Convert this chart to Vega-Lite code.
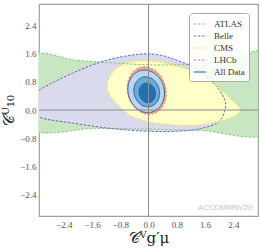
{
  "$schema": "https://vega.github.io/schema/vega-lite/v6.json",
  "width": 219,
  "height": 212,
  "autosize": "none",
  "padding": {"left": 39, "top": 4, "right": 4, "bottom": 34},
  "background": "white",
  "config": {
    "view": {"stroke": "#a0a0a0", "strokeWidth": 1.2},
    "axis": {
      "grid": false, "domain": false, "ticks": false,
      "labelFont": "Liberation Serif", "labelFontSize": 9, "labelColor": "#555555",
      "titleFont": "DejaVu Serif", "titleFontWeight": "normal", "titleColor": "#222222"
    },
    "legend": {
      "orient": "top-right", "offset": 9, "title": null,
      "fillColor": "rgba(255,255,255,0.85)", "strokeColor": "#aaaaaa", "cornerRadius": 3,
      "padding": 4, "labelFont": "Liberation Serif", "labelFontSize": 9, "labelColor": "#333333",
      "symbolType": "stroke", "symbolSize": 160, "symbolStrokeWidth": 1.2, "rowPadding": 0, "labelOffset": 7
    }
  },
  "data": {"values": [
    {"s":"ATLAS","name":"ATLAS","i":0,"x":-3.4,"y":1.49},
    {"s":"ATLAS","name":"ATLAS","i":1,"x":-2.0,"y":1.40},
    {"s":"ATLAS","name":"ATLAS","i":2,"x":-1.0,"y":1.33},
    {"s":"ATLAS","name":"ATLAS","i":3,"x":0.0,"y":1.28},
    {"s":"ATLAS","name":"ATLAS","i":4,"x":0.8,"y":1.28},
    {"s":"ATLAS","name":"ATLAS","i":5,"x":1.6,"y":1.33},
    {"s":"ATLAS","name":"ATLAS","i":6,"x":2.3,"y":1.42},
    {"s":"ATLAS","name":"ATLAS","i":7,"x":3.4,"y":1.56},
    {"s":"ATLAS","name":"ATLAS","i":8,"x":3.4,"y":-0.62},
    {"s":"ATLAS","name":"ATLAS","i":9,"x":1.5,"y":-0.58},
    {"s":"ATLAS","name":"ATLAS","i":10,"x":0.0,"y":-0.54},
    {"s":"ATLAS","name":"ATLAS","i":11,"x":-1.5,"y":-0.52},
    {"s":"ATLAS","name":"ATLAS","i":12,"x":-3.4,"y":-0.50},

    {"s":"Belle","name":"Belle","i":0,"x":-3.55,"y":0.18},
    {"s":"Belle","name":"Belle","i":1,"x":-3.1,"y":0.56},
    {"s":"Belle","name":"Belle","i":2,"x":-2.15,"y":1.04},
    {"s":"Belle","name":"Belle","i":3,"x":-1.18,"y":1.41},
    {"s":"Belle","name":"Belle","i":4,"x":-0.25,"y":1.58},
    {"s":"Belle","name":"Belle","i":5,"x":0.3,"y":1.56},
    {"s":"Belle","name":"Belle","i":6,"x":0.74,"y":1.43},
    {"s":"Belle","name":"Belle","i":7,"x":1.2,"y":1.25},
    {"s":"Belle","name":"Belle","i":8,"x":1.55,"y":1.02},
    {"s":"Belle","name":"Belle","i":9,"x":1.85,"y":0.75},
    {"s":"Belle","name":"Belle","i":10,"x":2.08,"y":0.45},
    {"s":"Belle","name":"Belle","i":11,"x":2.18,"y":0.2},
    {"s":"Belle","name":"Belle","i":12,"x":2.15,"y":-0.05},
    {"s":"Belle","name":"Belle","i":13,"x":2.04,"y":-0.28},
    {"s":"Belle","name":"Belle","i":14,"x":1.76,"y":-0.45},
    {"s":"Belle","name":"Belle","i":15,"x":1.2,"y":-0.57},
    {"s":"Belle","name":"Belle","i":16,"x":0.5,"y":-0.61},
    {"s":"Belle","name":"Belle","i":17,"x":-0.25,"y":-0.59},
    {"s":"Belle","name":"Belle","i":18,"x":-1.18,"y":-0.51},
    {"s":"Belle","name":"Belle","i":19,"x":-2.15,"y":-0.37},
    {"s":"Belle","name":"Belle","i":20,"x":-3.1,"y":-0.2},

    {"s":"CMS","name":"CMS","i":0,"x":-1.17,"y":0.66},
    {"s":"CMS","name":"CMS","i":1,"x":-1.1,"y":0.95},
    {"s":"CMS","name":"CMS","i":2,"x":-0.9,"y":1.18},
    {"s":"CMS","name":"CMS","i":3,"x":-0.6,"y":1.33},
    {"s":"CMS","name":"CMS","i":4,"x":-0.25,"y":1.39},
    {"s":"CMS","name":"CMS","i":5,"x":0.2,"y":1.37},
    {"s":"CMS","name":"CMS","i":6,"x":0.71,"y":1.27},
    {"s":"CMS","name":"CMS","i":7,"x":1.2,"y":1.12},
    {"s":"CMS","name":"CMS","i":8,"x":1.47,"y":1.02},
    {"s":"CMS","name":"CMS","i":9,"x":1.75,"y":0.82},
    {"s":"CMS","name":"CMS","i":10,"x":2.04,"y":0.57},
    {"s":"CMS","name":"CMS","i":11,"x":2.41,"y":0.24},
    {"s":"CMS","name":"CMS","i":12,"x":2.58,"y":0.06},
    {"s":"CMS","name":"CMS","i":13,"x":2.6,"y":-0.03},
    {"s":"CMS","name":"CMS","i":14,"x":2.41,"y":-0.19},
    {"s":"CMS","name":"CMS","i":15,"x":1.95,"y":-0.33},
    {"s":"CMS","name":"CMS","i":16,"x":1.47,"y":-0.42},
    {"s":"CMS","name":"CMS","i":17,"x":0.88,"y":-0.43},
    {"s":"CMS","name":"CMS","i":18,"x":0.3,"y":-0.38},
    {"s":"CMS","name":"CMS","i":19,"x":0.0,"y":-0.33},
    {"s":"CMS","name":"CMS","i":20,"x":-0.54,"y":-0.14},
    {"s":"CMS","name":"CMS","i":21,"x":-0.91,"y":0.2},
    {"s":"CMS","name":"CMS","i":22,"x":-1.1,"y":0.42},

    {"s":"LHCb","name":"LHCb","i":0,"x":-0.226,"y":1.207},
    {"s":"LHCb","name":"LHCb","i":1,"x":-0.464,"y":1.049},
    {"s":"LHCb","name":"LHCb","i":2,"x":-0.590,"y":0.757},
    {"s":"LHCb","name":"LHCb","i":3,"x":-0.572,"y":0.410},
    {"s":"LHCb","name":"LHCb","i":4,"x":-0.414,"y":0.101},
    {"s":"LHCb","name":"LHCb","i":5,"x":-0.158,"y":-0.089},
    {"s":"LHCb","name":"LHCb","i":6,"x":0.126,"y":-0.107},
    {"s":"LHCb","name":"LHCb","i":7,"x":0.364,"y":0.051},
    {"s":"LHCb","name":"LHCb","i":8,"x":0.490,"y":0.343},
    {"s":"LHCb","name":"LHCb","i":9,"x":0.472,"y":0.690},
    {"s":"LHCb","name":"LHCb","i":10,"x":0.314,"y":0.999},
    {"s":"LHCb","name":"LHCb","i":11,"x":0.058,"y":1.189},

    {"s":"All1","name":"All Data","i":0,"x":-0.223,"y":1.119},
    {"s":"All1","name":"All Data","i":1,"x":-0.448,"y":0.974},
    {"s":"All1","name":"All Data","i":2,"x":-0.571,"y":0.711},
    {"s":"All1","name":"All Data","i":3,"x":-0.558,"y":0.398},
    {"s":"All1","name":"All Data","i":4,"x":-0.413,"y":0.121},
    {"s":"All1","name":"All Data","i":5,"x":-0.174,"y":-0.046},
    {"s":"All1","name":"All Data","i":6,"x":0.093,"y":-0.059},
    {"s":"All1","name":"All Data","i":7,"x":0.318,"y":0.086},
    {"s":"All1","name":"All Data","i":8,"x":0.441,"y":0.349},
    {"s":"All1","name":"All Data","i":9,"x":0.428,"y":0.662},
    {"s":"All1","name":"All Data","i":10,"x":0.283,"y":0.939},
    {"s":"All1","name":"All Data","i":11,"x":0.044,"y":1.106},

    {"s":"All2","name":"All Data","i":0,"x":-0.161,"y":0.930},
    {"s":"All2","name":"All Data","i":1,"x":-0.320,"y":0.827},
    {"s":"All2","name":"All Data","i":2,"x":-0.407,"y":0.642},
    {"s":"All2","name":"All Data","i":3,"x":-0.398,"y":0.422},
    {"s":"All2","name":"All Data","i":4,"x":-0.295,"y":0.226},
    {"s":"All2","name":"All Data","i":5,"x":-0.128,"y":0.109},
    {"s":"All2","name":"All Data","i":6,"x":0.061,"y":0.100},
    {"s":"All2","name":"All Data","i":7,"x":0.220,"y":0.203},
    {"s":"All2","name":"All Data","i":8,"x":0.307,"y":0.388},
    {"s":"All2","name":"All Data","i":9,"x":0.298,"y":0.608},
    {"s":"All2","name":"All Data","i":10,"x":0.195,"y":0.804},
    {"s":"All2","name":"All Data","i":11,"x":0.028,"y":0.921},

    {"s":"All3","name":"All Data","i":0,"x":-0.108,"y":0.755},
    {"s":"All3","name":"All Data","i":1,"x":-0.209,"y":0.689},
    {"s":"All3","name":"All Data","i":2,"x":-0.263,"y":0.568},
    {"s":"All3","name":"All Data","i":3,"x":-0.257,"y":0.425},
    {"s":"All3","name":"All Data","i":4,"x":-0.191,"y":0.298},
    {"s":"All3","name":"All Data","i":5,"x":-0.083,"y":0.221},
    {"s":"All3","name":"All Data","i":6,"x":0.038,"y":0.215},
    {"s":"All3","name":"All Data","i":7,"x":0.139,"y":0.281},
    {"s":"All3","name":"All Data","i":8,"x":0.193,"y":0.402},
    {"s":"All3","name":"All Data","i":9,"x":0.187,"y":0.545},
    {"s":"All3","name":"All Data","i":10,"x":0.121,"y":0.672},
    {"s":"All3","name":"All Data","i":11,"x":0.013,"y":0.749}
  ]},
  "encoding": {
    "x": {"field": "x", "type": "quantitative",
      "scale": {"domain": [-3.1, 3.1], "nice": false, "zero": false},
      "axis": {"values": [-2.4, -1.6, -0.8, 0, 0.8, 1.6, 2.4], "format": ".1f", "labelPadding": 4,
        "title": "𝒞ⱽg′μ", "titleFontSize": 15, "titlePadding": 1}},
    "y": {"field": "y", "type": "quantitative",
      "scale": {"domain": [-3, 3], "nice": false, "zero": false},
      "axis": {"values": [-2.4, -1.6, -0.8, 0, 0.8, 1.6, 2.4], "format": ".1f", "labelPadding": 3,
        "title": "𝒞ᵁ₁₀", "titleFontSize": 15, "titlePadding": 3}},
    "order": {"field": "i", "type": "quantitative"}
  },
  "layer": [
    {"transform": [{"filter": "datum.s === 'ATLAS'"}],
     "mark": {"type": "line", "interpolate": "cardinal-closed", "fill": "#c8e6c1", "strokeWidth": 0, "clip": true}},
    {"transform": [{"filter": "datum.s === 'Belle'"}],
     "mark": {"type": "line", "interpolate": "cardinal-closed", "fill": "#dadaed", "strokeWidth": 0, "clip": true}},
    {"transform": [{"filter": "datum.s === 'CMS'"}],
     "mark": {"type": "line", "interpolate": "cardinal-closed", "fill": "#ffffc8", "strokeWidth": 0, "clip": true}},
    {"transform": [{"filter": "datum.s === 'LHCb'"}],
     "mark": {"type": "line", "interpolate": "cardinal-closed", "fill": "#f8ab90", "strokeWidth": 0, "clip": true}},
    {"transform": [{"filter": "datum.s === 'All1'"}],
     "mark": {"type": "line", "interpolate": "cardinal-closed", "fill": "#bad6ee", "strokeWidth": 0, "clip": true}},
    {"transform": [{"filter": "datum.s === 'All2'"}],
     "mark": {"type": "line", "interpolate": "cardinal-closed", "fill": "#6aacd9", "strokeWidth": 0, "clip": true}},
    {"transform": [{"filter": "datum.s === 'All3'"}],
     "mark": {"type": "line", "interpolate": "cardinal-closed", "fill": "#2270b4", "strokeWidth": 0, "clip": true}},
    {"mark": {"type": "line", "interpolate": "cardinal-closed", "strokeWidth": 1, "clip": true},
     "encoding": {
       "stroke": {"field": "name", "type": "nominal",
         "scale": {"domain": ["ATLAS", "Belle", "CMS", "LHCb", "All Data"],
                   "range": ["#86c984", "#7068b8", "#f7e540", "#f07560", "#2f5f9a"]}},
       "strokeDash": {"field": "name", "type": "nominal",
         "scale": {"domain": ["ATLAS", "Belle", "CMS", "LHCb", "All Data"],
                   "range": [[2.5, 1.5], [2.5, 1.5], [2.5, 1.5], [2.5, 1.5], [1, 0]]}},
       "detail": {"field": "s", "type": "nominal"}
     }},
    {"transform": [{"filter": "datum.s === 'ATLAS' && datum.i === 0"}],
     "mark": {"type": "rule", "color": "#8c8c8c", "strokeWidth": 1},
     "encoding": {"x": {"datum": 0}, "y": null, "order": null}},
    {"transform": [{"filter": "datum.s === 'ATLAS' && datum.i === 0"}],
     "mark": {"type": "rule", "color": "#8c8c8c", "strokeWidth": 1},
     "encoding": {"y": {"datum": 0}, "x": null, "order": null}},
    {"transform": [{"filter": "datum.s === 'ATLAS' && datum.i === 0"}],
     "mark": {"type": "text", "text": "ACCDMMNV20", "align": "right", "baseline": "bottom",
              "font": "Liberation Sans", "fontSize": 7.8, "color": "#c4c4c4"},
     "encoding": {"x": {"datum": 2.95}, "y": {"datum": -2.9}, "order": null}}
  ]
}
